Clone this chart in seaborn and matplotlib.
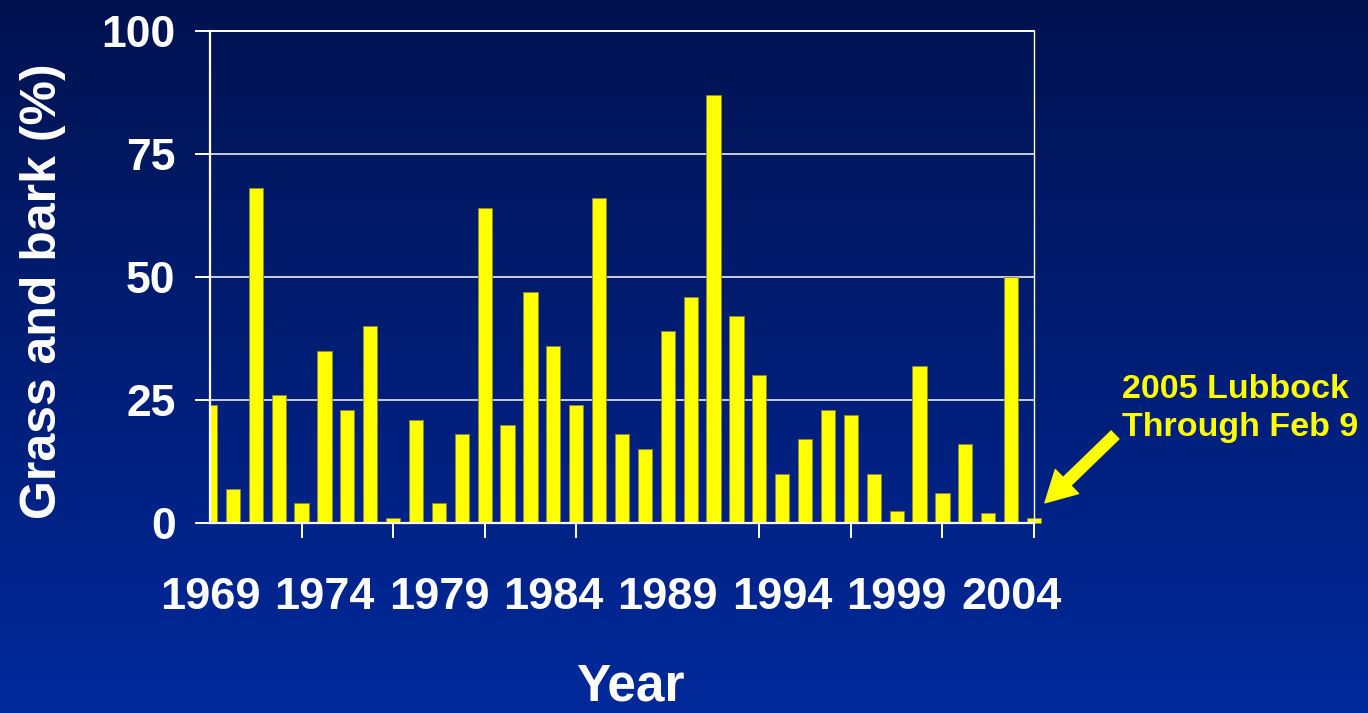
"""Grass and bark share by year, Lubbock 1969-2005 (slide-style chart)."""
import matplotlib
matplotlib.use("Agg")
import matplotlib.pyplot as plt
import numpy as np
import pandas as pd
import seaborn as sns
from matplotlib.colors import LinearSegmentedColormap
from matplotlib.ticker import FixedLocator

YEARS = list(range(1969, 2006))
GRASS_BARK = [24, 7, 68, 26, 4, 35, 23, 40, 1, 21, 4, 18, 64, 20, 47, 36,
              24, 66, 18, 15, 39, 46, 87, 42, 30, 10, 17, 23, 22, 10, 2.5,
              32, 6, 16, 2, 50, 1]
Y_TICKS = [0, 25, 50, 75, 100]
LABEL_YEARS = [1969, 1974, 1979, 1984, 1989, 1994, 1999, 2004]
MARK_YEARS = [1969, 1973, 1977, 1981, 1985, 1989, 1993, 1997, 2001, 2005]

BG_TOP = "#001250"
BG_BOTTOM = "#00299b"
YELLOW = "#ffff00"

sns.set_theme(style="white")
plt.rcParams["font.family"] = ["Liberation Sans", "DejaVu Sans"]
plt.rcParams["font.weight"] = "bold"

df = pd.DataFrame({"year": YEARS, "pct": GRASS_BARK})

W, H = 1368, 713
fig = plt.figure(figsize=(W / 100, H / 100), dpi=100)

# gradient slide background
bg = fig.add_axes([0, 0, 1, 1], zorder=-10)
grad = np.linspace(0, 1, 256).reshape(-1, 1)
bg.imshow(grad, aspect="auto", origin="upper", extent=[0, 1, 0, 1],
          cmap=LinearSegmentedColormap.from_list("bg", [BG_TOP, BG_BOTTOM]))
bg.set_axis_off()

ax = fig.add_axes([210 / W, 1 - 523 / H, 824 / W, 492 / H])
ax.set_facecolor("none")

sns.barplot(data=df, x="year", y="pct", native_scale=True, width=0.62,
            color=YELLOW, saturation=1, edgecolor="#8a8a3a", linewidth=0.6,
            errorbar=None, ax=ax)

ax.set_xlim(1969, 2005)
ax.set_ylim(0, 100)
# last (2005) bar hangs past the right edge in the original
last = max(ax.patches, key=lambda p: p.get_x())
last.set_clip_on(False)

ax.set_axisbelow(True)
ax.yaxis.grid(True, color="white", lw=1.1)
ax.xaxis.grid(False)

ax.set_yticks(Y_TICKS)
ax.tick_params(axis="y", colors="white", length=10.8, width=1.4, pad=14,
               labelsize=32, left=True)
ax.set_xticks(LABEL_YEARS)
ax.set_xticklabels([str(y) for y in LABEL_YEARS])
ax.xaxis.set_minor_locator(FixedLocator(MARK_YEARS))
ax.tick_params(axis="x", which="major", length=0, pad=39, labelsize=32.5,
               colors="white", bottom=True)
ax.tick_params(axis="x", which="minor", length=10.8, width=1.4,
               color="white", bottom=True)

for side, lw in [("left", 1.6), ("bottom", 1.6), ("top", 1.4), ("right", 1.0)]:
    ax.spines[side].set_visible(True)
    ax.spines[side].set_color("white")
    ax.spines[side].set_linewidth(lw)

ax.set_xlabel("Year", fontsize=37, color="white", fontweight="bold")
ax.xaxis.label.set_va("bottom")
ax.xaxis.set_label_coords(0.51, -0.3835)
ax.set_ylabel("Grass and bark (%)", fontsize=36, color="white",
              fontweight="bold")
ax.yaxis.set_label_coords(-0.175, 0.4715)

fig.text(1122 / W, 1 - 374 / H, "2005 Lubbock\nThrough Feb 9", color=YELLOW,
         fontsize=24.5, fontweight="bold", ha="left", va="top", linespacing=1.3)
ax.annotate("", xy=(2005.48, 4.1), xycoords="data",
            xytext=(1115 / W, 1 - 435 / H), textcoords="figure fraction",
            arrowprops=dict(facecolor=YELLOW, edgecolor=YELLOW, width=8,
                            headwidth=24, headlength=22, shrink=0),
            annotation_clip=False)

fig.savefig("out.png", dpi=100)
